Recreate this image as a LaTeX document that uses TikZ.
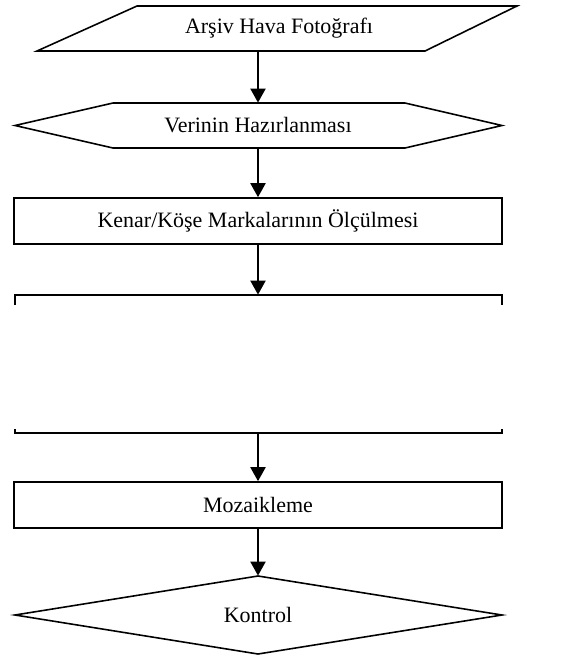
\documentclass[tikz,border=0pt]{standalone}
\usepackage{fontspec}
\setmainfont{Liberation Serif}
\usetikzlibrary{arrows.meta}
\begin{document}
\begin{tikzpicture}[x=0.02cm,y=-0.02cm,every node/.style={font=\fontsize{12.5}{15}\selectfont,inner sep=0pt},
  kutu/.style={draw,line width=0.9pt,minimum width=9.76cm,minimum height=0.92cm},
  alan/.style={minimum width=9.74cm},
  cizgi/.style={line width=0.9pt,line join=miter},
  ok/.style={line width=1.3pt,-{Triangle[length=8pt,width=8.5pt]}}]
\useasboundingbox (0,0) rectangle (568,657);
\draw[cizgi] (137,6)--(517,6)--(425,51)--(37,51)--cycle;
\node[minimum height=0.9cm] (arsiv) at (279,28.5) {Arşiv Hava Fotoğrafı};
\draw[cizgi] (113,103)--(405,103)--(502,125.5)--(405,148)--(113,148)--(15,125.5)--cycle;
\node[alan,minimum height=0.9cm] (veri) at (258,125.5) {Verinin Hazırlanması};
\node[kutu] (kenar) at (258,221) {Kenar/Köşe Markalarının Ölçülmesi};
% bos alan
\node[alan,minimum height=2.76cm] (bos) at (258,364) {};
\draw[cizgi] (15,305)--(15,295)--(502,295)--(502,305);
\draw[cizgi] (15,429)--(15,433)--(502,433)--(502,429);
\node[kutu] (mozaik) at (258,505) {Mozaikleme};
\draw[cizgi] (258,576)--(502,615)--(258,654)--(15,615)--cycle;
\node[alan,minimum height=1.56cm] (kontrol) at (258,615) {Kontrol};
\draw[ok] (arsiv.south -| veri.north) -- (veri.north);
\draw[ok] (veri.south) -- (kenar.north);
\draw[ok] (kenar.south) -- (bos.north);
\draw[ok] (bos.south) -- (mozaik.north);
\draw[ok] (mozaik.south) -- (kontrol.north);
\end{tikzpicture}
\end{document}
